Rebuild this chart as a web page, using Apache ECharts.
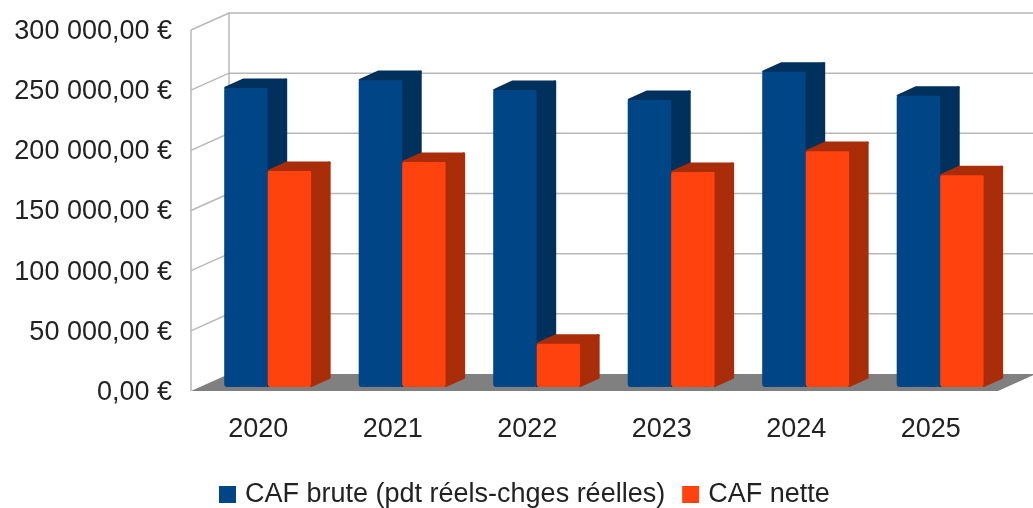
<!DOCTYPE html>
<html><head><meta charset="utf-8">
<style>html,body{margin:0;padding:0;background:#fff}#c{width:1033px;height:508px;filter:blur(0.45px)}</style>
<script src="https://cdn.jsdelivr.net/npm/echarts@6/dist/echarts.min.js"></script>
</head><body><div id="c"></div>
<script>
const categories = ['2020','2021','2022','2023','2024','2025'];
const cafBrute = [248500,255000,246800,238500,262000,242000];
const cafNette = [179500,187000,36000,178700,196000,176000];
const yTicks = [0,50000,100000,150000,200000,250000,300000];
const seriesNames = ['CAF brute (pdt réels-chges réelles)','CAF nette'];

const FONT = '"Liberation Sans", Arial, sans-serif';
const DEPTH = [38,-17];     // wall depth in px
const OFF = [9.4,-4];       // bar front face offset from front plane
const BD = [19.5,-9.5];     // bar depth
const GRID = '#b8b8b8';

function poly(points, fill){
  return {type:'polygon', shape:{points}, style:{fill, stroke:fill, lineWidth:2.5, lineJoin:'round'}, silent:true};
}
function barRender(side, front, sideCol, topCol){
  return function(params, api){
    const c = api.coord([api.value(0), api.value(1)]);
    const b = api.coord([api.value(0), 0]);
    const w = api.size([1,0])[0]*0.323;
    const x0 = (side<0 ? c[0]-w : c[0]) + OFF[0];
    const x1 = x0 + w;
    const yt = c[1]+OFF[1], yb = b[1]+OFF[1];
    const i = 1.2;
    return {type:'group', children:[
      poly([[x1,yb-i],[x1+BD[0]-i,yb+BD[1]],[x1+BD[0]-i,yt+BD[1]+i],[x1,yt]], sideCol),
      poly([[x0+i,yt],[x0+BD[0],yt+BD[1]+i],[x1+BD[0]-i,yt+BD[1]+i],[x1,yt]], topCol),
      {type:'rect', silent:true, shape:{x:x0,y:yt,width:w,height:yb-yt,r:[2,1,3,3]}, style:{fill:front}}
    ]};
  };
}
const option = {
  animation:false,
  backgroundColor:'#fff',
  textStyle:{fontFamily:FONT},
  grid:{left:191,top:30,width:807,height:361,containLabel:false},
  legend:{
    left:214, top:476, itemWidth:17, itemHeight:17, itemGap:17,
    icon:'rect',
    data:seriesNames,
    selectedMode:false,
    textStyle:{fontSize:27,color:'#222',fontFamily:FONT,padding:[0,0,0,4]}
  },
  xAxis:{type:'category',data:categories,
    axisLine:{show:false},axisTick:{show:false},
    axisLabel:{fontSize:27,color:'#222',margin:25,fontFamily:FONT}},
  yAxis:{type:'value',min:0,max:300000,interval:50000,
    axisLine:{show:false},axisTick:{show:false},splitLine:{show:false},
    axisLabel:{margin:19,
      rich:{a:{fontSize:27,color:'#222',fontFamily:FONT,padding:[3,0,0,0]}},
      formatter:v=>{
        const s=String(v).replace(/\B(?=(\d{3})+$)/g,' ');
        return '{a|'+s+',00 €}';
      }}},
  series:[
    {type:'custom',name:'walls',z:1,silent:true,data:yTicks.map(v=>[v]),encode:{y:0},
     renderItem(params,api){
       const cs=params.coordSys;
       const v=api.value(0);
       const y=api.coord([0,v])[1];
       const l=cs.x, r=cs.x+cs.width;
       const st={stroke:GRID,lineWidth:1.5,fill:'none'};
       const ch=[];
       if(v>0){
         ch.push({type:'polyline',shape:{points:[[l,y],[l+DEPTH[0],y+DEPTH[1]],[r+DEPTH[0],y+DEPTH[1]]]},style:st});
       }
       if(v===yTicks[yTicks.length-1]){
         const yb=cs.y+cs.height;
         ch.push({type:'line',shape:{x1:l,y1:y,x2:l,y2:yb},style:st});
         ch.push({type:'line',shape:{x1:l+DEPTH[0],y1:y+DEPTH[1],x2:l+DEPTH[0],y2:yb+DEPTH[1]},style:st});
       }
       if(v===0){
         ch.push({type:'polygon',shape:{points:[[l,y],[l+DEPTH[0],y+DEPTH[1]],[r+DEPTH[0],y+DEPTH[1]],[r,y]]},style:{fill:'#808080'}});
       }
       return {type:'group',children:ch};
     }},
    {type:'custom',name:seriesNames[0],z:2,itemStyle:{color:'#004586'},
     data:cafBrute.map((v,i)=>[i,v]),encode:{x:0,y:1},
     renderItem:barRender(-1,'#004586','#00305c','#00305c')},
    {type:'custom',name:seriesNames[1],z:3,itemStyle:{color:'#ff420e'},
     data:cafNette.map((v,i)=>[i,v]),encode:{x:0,y:1},
     renderItem:barRender(1,'#ff420e','#a82d08','#a82d08')}
  ]
};
echarts.init(document.getElementById('c'),null,{renderer:'canvas'}).setOption(option);
</script></body></html>
